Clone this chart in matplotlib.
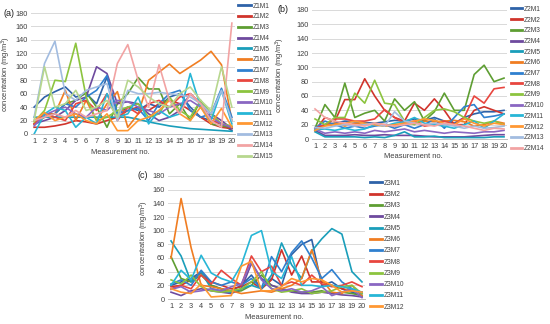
import matplotlib
matplotlib.use("Agg")
import matplotlib.pyplot as plt
import numpy as np

plt.rcParams['font.family'] = ['Liberation Sans', 'DejaVu Sans']

measurements = list(range(1, 21))
yticks = [0, 20, 40, 60, 80, 100, 120, 140, 160, 180]

# ---- Zone 1 ----
z1_labels = ["Z1M1", "Z1M2", "Z1M3", "Z1M4", "Z1M5", "Z1M6", "Z1M7", "Z1M8",
             "Z1M9", "Z1M10", "Z1M11", "Z1M12", "Z1M13", "Z1M14", "Z1M15"]
Z1M1 = [40, 55, 63, 70, 55, 60, 45, 85, 30, 40, 35, 45, 40, 55, 60, 40, 25, 20, 15, 5]
Z1M2 = [10, 10, 12, 15, 20, 18, 15, 20, 25, 35, 40, 35, 45, 50, 45, 35, 25, 15, 10, 8]
Z1M3 = [15, 25, 30, 45, 50, 62, 40, 10, 45, 60, 84, 67, 67, 30, 45, 20, 50, 15, 12, 10]
Z1M4 = [15, 20, 25, 35, 50, 55, 100, 90, 45, 48, 45, 30, 20, 25, 35, 60, 45, 30, 20, 8]
Z1M5 = [25, 25, 25, 25, 25, 25, 25, 25, 25, 25, 22, 18, 15, 12, 10, 8, 7, 6, 5, 4]
Z1M6 = [15, 30, 30, 65, 20, 50, 20, 45, 63, 10, 30, 80, 92, 104, 90, 100, 110, 123, 103, 20]
Z1M7 = [20, 25, 30, 45, 40, 55, 65, 87, 30, 35, 38, 20, 45, 60, 65, 35, 25, 30, 68, 25]
Z1M8 = [15, 30, 25, 20, 45, 50, 35, 60, 20, 40, 30, 45, 50, 40, 55, 60, 45, 20, 15, 10]
Z1M9 = [18, 35, 80, 78, 135, 55, 20, 25, 35, 40, 45, 25, 30, 55, 35, 25, 50, 30, 15, 12]
Z1M10 = [12, 28, 35, 40, 30, 25, 40, 35, 50, 48, 40, 35, 30, 40, 45, 50, 40, 25, 15, 10]
Z1M11 = [0, 30, 40, 35, 10, 25, 15, 60, 25, 30, 55, 15, 35, 25, 30, 90, 40, 20, 65, 15]
Z1M12 = [20, 32, 20, 25, 30, 20, 15, 30, 5, 5, 20, 25, 35, 50, 30, 20, 40, 15, 38, 10]
Z1M13 = [25, 105, 138, 60, 50, 65, 70, 75, 20, 65, 60, 60, 62, 60, 58, 55, 45, 30, 65, 20]
Z1M14 = [20, 25, 30, 25, 35, 25, 30, 35, 105, 133, 80, 40, 103, 50, 30, 60, 45, 20, 10, 165]
Z1M15 = [20, 100, 40, 45, 65, 35, 40, 50, 25, 80, 70, 55, 45, 40, 60, 70, 50, 35, 100, 40]
z1_series = [Z1M1, Z1M2, Z1M3, Z1M4, Z1M5, Z1M6, Z1M7, Z1M8, Z1M9, Z1M10,
             Z1M11, Z1M12, Z1M13, Z1M14, Z1M15]

# ---- Zone 2 ----
z2_labels = ["Z2M1", "Z2M2", "Z2M3", "Z2M4", "Z2M5", "Z2M6", "Z2M7", "Z2M8",
             "Z2M9", "Z2M10", "Z2M11", "Z2M12", "Z2M13", "Z2M14"]
Z2M1 = [15, 20, 22, 25, 24, 23, 22, 24, 26, 25, 28, 26, 30, 25, 22, 30, 35, 38, 38, 40]
Z2M2 = [12, 30, 25, 55, 55, 84, 60, 40, 30, 25, 50, 40, 56, 40, 20, 20, 40, 45, 40, 35]
Z2M3 = [15, 48, 30, 78, 30, 36, 40, 25, 56, 40, 52, 25, 38, 64, 40, 40, 90, 103, 80, 85]
Z2M4 = [12, 5, 5, 5, 6, 5, 5, 6, 5, 5, 5, 4, 3, 3, 3, 3, 4, 5, 6, 6]
Z2M5 = [10, 3, 3, 3, 3, 2, 3, 2, 5, 10, 3, 3, 4, 2, 2, 2, 2, 2, 3, 3]
Z2M6 = [12, 20, 22, 18, 22, 20, 22, 20, 18, 20, 22, 25, 24, 25, 26, 24, 18, 20, 25, 22]
Z2M7 = [15, 25, 20, 15, 18, 15, 18, 20, 15, 20, 15, 20, 28, 15, 30, 45, 48, 30, 32, 35]
Z2M8 = [15, 20, 28, 28, 25, 25, 28, 41, 30, 22, 25, 18, 20, 25, 20, 30, 60, 50, 70, 72]
Z2M9 = [28, 20, 30, 30, 64, 50, 82, 50, 48, 25, 20, 30, 40, 42, 38, 30, 25, 22, 25, 20]
Z2M10 = [14, 8, 10, 8, 10, 8, 12, 10, 12, 14, 10, 12, 10, 8, 10, 9, 8, 10, 10, 12]
Z2M11 = [13, 14, 12, 15, 12, 14, 20, 18, 22, 24, 30, 22, 20, 18, 15, 20, 25, 15, 25, 35]
Z2M12 = [12, 18, 20, 22, 25, 22, 20, 18, 20, 22, 25, 28, 26, 22, 20, 28, 22, 18, 22, 20]
Z2M13 = [16, 15, 18, 20, 18, 20, 22, 18, 38, 25, 22, 20, 22, 20, 18, 15, 18, 15, 16, 18]
Z2M14 = [42, 30, 25, 22, 20, 18, 22, 20, 18, 20, 22, 20, 18, 22, 20, 18, 15, 12, 15, 14]
z2_series = [Z2M1, Z2M2, Z2M3, Z2M4, Z2M5, Z2M6, Z2M7, Z2M8, Z2M9, Z2M10,
             Z2M11, Z2M12, Z2M13, Z2M14]

# ---- Zone 3 ----
z3_labels = ["Z3M1", "Z3M2", "Z3M3", "Z3M4", "Z3M5", "Z3M6", "Z3M7", "Z3M8",
             "Z3M9", "Z3M10", "Z3M11", "Z3M12"]
Z3M1 = [20, 25, 30, 40, 20, 15, 12, 20, 35, 15, 30, 20, 65, 80, 87, 20, 25, 15, 10, 5]
Z3M2 = [18, 20, 28, 38, 25, 20, 15, 18, 25, 15, 28, 72, 35, 63, 25, 25, 20, 15, 12, 10]
Z3M3 = [62, 30, 25, 35, 20, 15, 10, 12, 20, 35, 20, 15, 12, 10, 10, 12, 8, 10, 8, 5]
Z3M4 = [10, 5, 12, 15, 12, 10, 8, 15, 52, 30, 20, 15, 10, 8, 8, 10, 8, 6, 5, 3]
Z3M5 = [85, 63, 25, 40, 15, 12, 10, 15, 20, 15, 35, 82, 50, 30, 70, 88, 103, 95, 40, 25]
Z3M6 = [60, 147, 75, 20, 18, 15, 12, 8, 10, 12, 10, 15, 20, 30, 72, 28, 10, 8, 20, 5]
Z3M7 = [22, 28, 20, 42, 25, 20, 25, 20, 30, 15, 62, 40, 68, 85, 60, 30, 43, 25, 15, 8]
Z3M8 = [15, 20, 15, 35, 22, 42, 30, 20, 63, 40, 48, 20, 25, 20, 35, 22, 18, 20, 25, 18]
Z3M9 = [28, 22, 35, 18, 12, 10, 12, 15, 25, 40, 15, 10, 12, 15, 8, 10, 12, 18, 20, 8]
Z3M10 = [14, 18, 10, 12, 15, 12, 18, 22, 55, 28, 15, 12, 15, 10, 12, 18, 5, 10, 15, 2]
Z3M11 = [20, 42, 28, 64, 38, 30, 25, 50, 93, 100, 40, 30, 62, 20, 20, 18, 20, 18, 15, 10]
Z3M12 = [15, 10, 8, 22, 3, 4, 5, 48, 55, 12, 12, 18, 30, 25, 30, 28, 20, 10, 12, 10]
z3_series = [Z3M1, Z3M2, Z3M3, Z3M4, Z3M5, Z3M6, Z3M7, Z3M8, Z3M9, Z3M10,
             Z3M11, Z3M12]

colors = ["#2E62A8", "#D0342C", "#5E9E32", "#6E4A9E", "#1A9EBA", "#F07D22",
          "#2F80CF", "#E8463F", "#8CC43F", "#8A67C2", "#27B6D6", "#FF9833",
          "#A2BCE0", "#F2A3A3", "#B7D78E"]

W, H = 550, 324
fig = plt.figure(figsize=(5.5, 3.24), dpi=100)
FS_TICK = 5.3
FS_LEG = 4.8
FS_LAB = 5.4


def make_axes(left, right, top0, ybottom):
    return fig.add_axes([left / W, (H - ybottom) / H, (right - left) / W, (ybottom - top0) / H])


def style(ax, series, labels, leg_x, leg_y, spacing, hlen, hpad, ylab_x, xlab_xy):
    lines = []
    for s, lab, c in zip(series, labels, colors):
        ln, = ax.plot(measurements, s, color=c, lw=1.2, label=lab)
        lines.append(ln)
    ax.set_xlim(0.7, 20.3)
    ax.set_ylim(0, 180)
    ax.set_yticks(yticks)
    ax.set_xticks(measurements)
    ax.tick_params(axis='both', labelsize=FS_TICK, colors='#404040', length=0, pad=2.2)
    ax.tick_params(axis='x', pad=3)
    ax.grid(axis='y', color='#D9D9D9', lw=0.7)
    ax.set_axisbelow(True)
    for sp in ['left', 'right', 'top']:
        ax.spines[sp].set_visible(False)
    ax.spines['bottom'].set_color('#BFBFBF')
    ax.spines['bottom'].set_linewidth(0.7)
    ax.set_xlabel('Measurement no.', fontsize=FS_LAB, color='#404040')
    ax.set_ylabel('concentration (mg/m$^3$)', fontsize=FS_LAB, color='#404040')
    ax.yaxis.set_label_coords(ylab_x, 0.5)
    ax.xaxis.set_label_coords(*xlab_xy)
    leg = fig.legend(handles=lines, loc='upper left',
                     bbox_to_anchor=(leg_x / W, 1 - leg_y / H),
                     frameon=False, fontsize=FS_LEG, handlelength=hlen,
                     handletextpad=hpad, labelspacing=spacing, borderpad=0,
                     borderaxespad=0)
    for t in leg.get_texts():
        t.set_color('#404040')
    for l in leg.get_lines():
        l.set_linewidth(2)
    return ax


ax1 = make_axes(31, 235, 13, 134)
style(ax1, z1_series, z1_labels, 238, 2.7, 0.56, 2.0, 0.2, -0.086, (0.44, -0.12))
ax2 = make_axes(312, 507, 10, 139)
style(ax2, z2_series, z2_labels, 511, 5.8, 0.555, 1.6, 0.35, -0.13, (0.52, -0.105))
ax3 = make_axes(168, 365, 176, 299)
style(ax3, z3_series, z3_labels, 370, 179.8, 0.64, 1.75, 0.3, -0.084, (0.54, -0.118))

fig.text(3 / W, 1 - 13 / H, '(a)', fontsize=6.5, color='#202020', va='center')
fig.text(277 / W, 1 - 10 / H, '(b)', fontsize=6.5, color='#202020', va='center')
fig.text(137 / W, 1 - 175 / H, '(c)', fontsize=6.5, color='#202020', va='center')

fig.savefig('out.png', dpi=100)
